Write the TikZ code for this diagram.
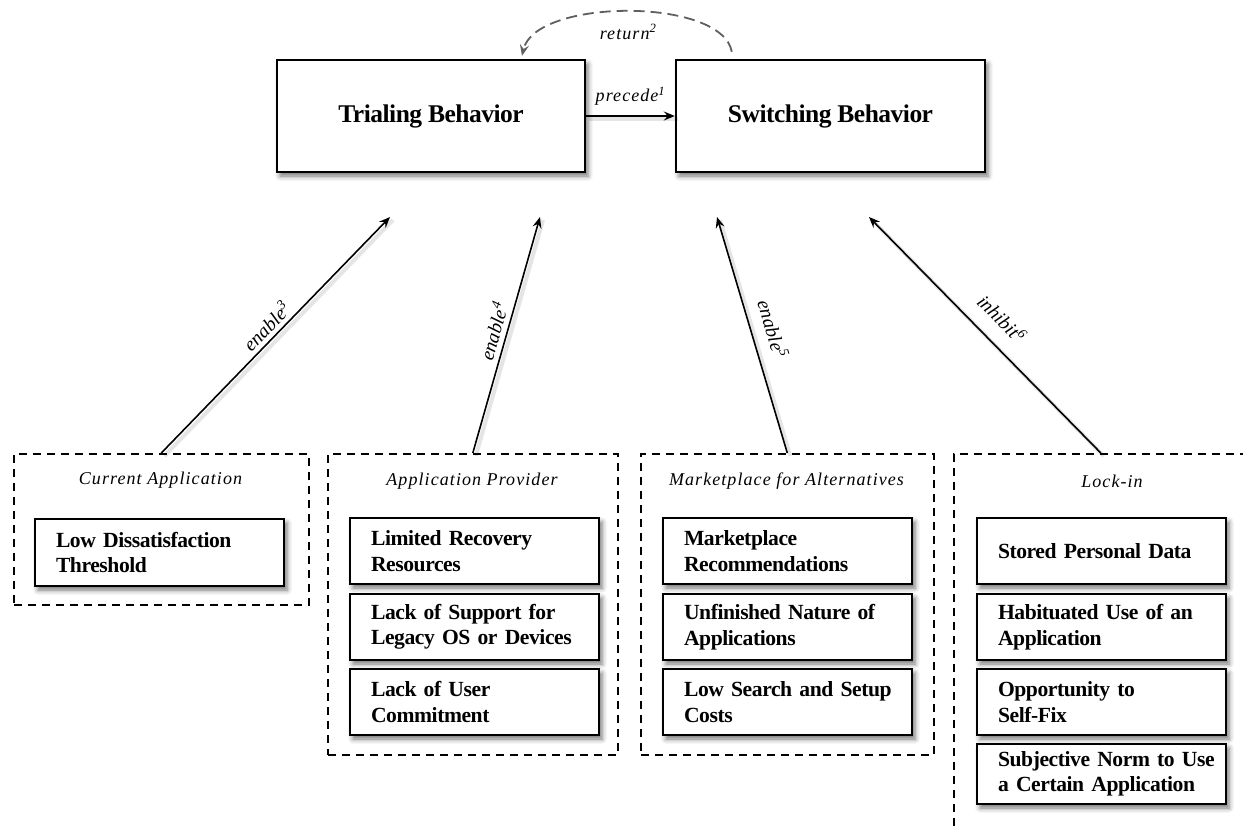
\documentclass[tikz,border=0pt]{standalone}
\usepackage{fontspec}
\setmainfont{Liberation Serif}
\newfontfamily\spfont[LetterSpace=6]{Liberation Serif}
\newfontfamily\boxfont[LetterSpace=-2.0,WordSpace=0.55]{Liberation Serif}
\newfontfamily\mainfontb[LetterSpace=-2.0]{Liberation Serif}
\usetikzlibrary{arrows.meta,calc,shadows.blur}
\definecolor{retgray}{RGB}{95,95,95}
\begin{document}
\begin{tikzpicture}[x=1pt,y=-1pt,
  shadowed/.style={blur shadow={shadow xshift=3pt,shadow yshift=-4pt,shadow blur radius=5pt,shadow opacity=55}},
  mainbox/.style={draw, line width=2.4pt, fill=white, minimum width=308pt, minimum height=112pt,
    font=\fontsize{25.5}{30}\mainfontb\bfseries, shadowed},
  factor/.style={draw, line width=2pt, fill=white, minimum width=249pt, text width=207pt, inner xsep=21pt,
    minimum height=66pt, align=left, anchor=north west, font=\fontsize{21.6}{25.5}\boxfont\bfseries, shadowed},
  grp/.style={draw, line width=1.6pt, dash pattern=on 8pt off 6pt, anchor=north west, inner sep=0pt},
  grptitle/.style={font=\fontsize{18}{22}\selectfont\spfont\itshape},
  elbl/.style={font=\fontsize{18}{22}\selectfont\spfont\itshape, inner sep=2pt},
  rlbl/.style={font=\fontsize{19.5}{22}\selectfont\itshape, inner sep=2pt},
  ashadow/.style={preaction={draw=black, line width=4pt, opacity=0.10, -, transform canvas={shift={(3pt,-3pt)}}}},
  arr/.style={line width=1.6pt, -{Stealth[length=11pt,width=9pt,inset=4pt]}, ashadow},
  retarr/.style={line width=1.8pt, draw=retgray, dash pattern=on 11pt off 6pt,
    -{Stealth[length=11pt,width=9pt,inset=4pt,fill=retgray]}}
]
\useasboundingbox (0,0) rectangle (1243,828);
\clip (0,0) rectangle (1243,828);

% main boxes
\node[mainbox] (tr) at (431,116) {Trialing Behavior};
\node[mainbox, minimum width=309pt] (sw) at (830.5,116) {Switching Behavior};

% groups
\node[grp, minimum width=295pt, minimum height=151pt] (ca) at (13,453) {};
\node[grp, minimum width=290pt, minimum height=301pt] (ap) at (327,453) {};
\node[grp, minimum width=293pt, minimum height=301pt] (mp) at (640,453) {};
\node[grp, minimum width=294pt, minimum height=420pt] (li) at (953,453) {};

\node[grptitle] (cat) at (160.5,480) {Current Application};
\node[grptitle] (apt) at (472,481) {Application Provider};
\node[grptitle] (mpt) at (786.5,481) {Marketplace for Alternatives};
\node[grptitle] (lit) at (1112,481) {Lock-in};

% factors
\node[factor, minimum height=67pt] (f1) at (34,518) {Low Dissatisfaction\\Threshold};

\node[factor] (f2) at (349,517) {Limited Recovery\\Resources};
\node[factor] (f3) at (349,593) {\mbox{Lack of Support for}\\\mbox{Legacy OS or Devices}};
\node[factor] (f4) at (349,668) {Lack of User\\Commitment};

\node[factor] (f5) at (662,517) {Marketplace\\Recommendations};
\node[factor] (f6) at (662,593) {\mbox{Unfinished Nature of}\\Applications};
\node[factor] (f7) at (662,668) {\mbox{Low Search and Setup}\\Costs};

\node[factor] (f8) at (976,517) {Stored Personal Data};
\node[factor] (f9) at (976,593) {\mbox{Habituated Use of an}\\Application};
\node[factor] (f10) at (976,668) {Opportunity to\\Self-Fix};
\node[factor, minimum height=60pt] (f11) at (976,743) {\mbox{Subjective Norm to Use}\\\mbox{a Certain Application}};

% connectors
\draw[arr] (tr.east) -- node[elbl, above=8pt] (l1) {precede\textsuperscript{1}} (sw.west);

\draw[retarr] ($(sw.north west)+(57pt,7pt)$) .. controls (722,-3) and (535,-2) .. ($(tr.north)+(91pt,3pt)$)
  node[elbl, pos=0.5, below=10pt] (l2) {return\textsuperscript{2}};

\coordinate (e1) at (390,217);
\coordinate (e2) at (540,217);
\coordinate (e3) at (717,217);
\coordinate (e4) at (869,217);

\draw[arr] (ca.north) -- node[rlbl, midway, sloped, above=2pt] (l3) {enable\textsuperscript{3}} (e1);
\draw[arr] (ap.north) -- node[rlbl, midway, sloped, above=3pt] (l4) {enable\textsuperscript{4}} (e2);
\draw[arr] (mp.north) -- node[rlbl, midway, sloped, above=11pt] (l5) {enable\textsuperscript{5}} (e3);
\draw[arr] (li.north) -- node[rlbl, midway, sloped, above=13pt] (l6) {inhibit\textsuperscript{6}} (e4);
\end{tikzpicture}
\end{document}
